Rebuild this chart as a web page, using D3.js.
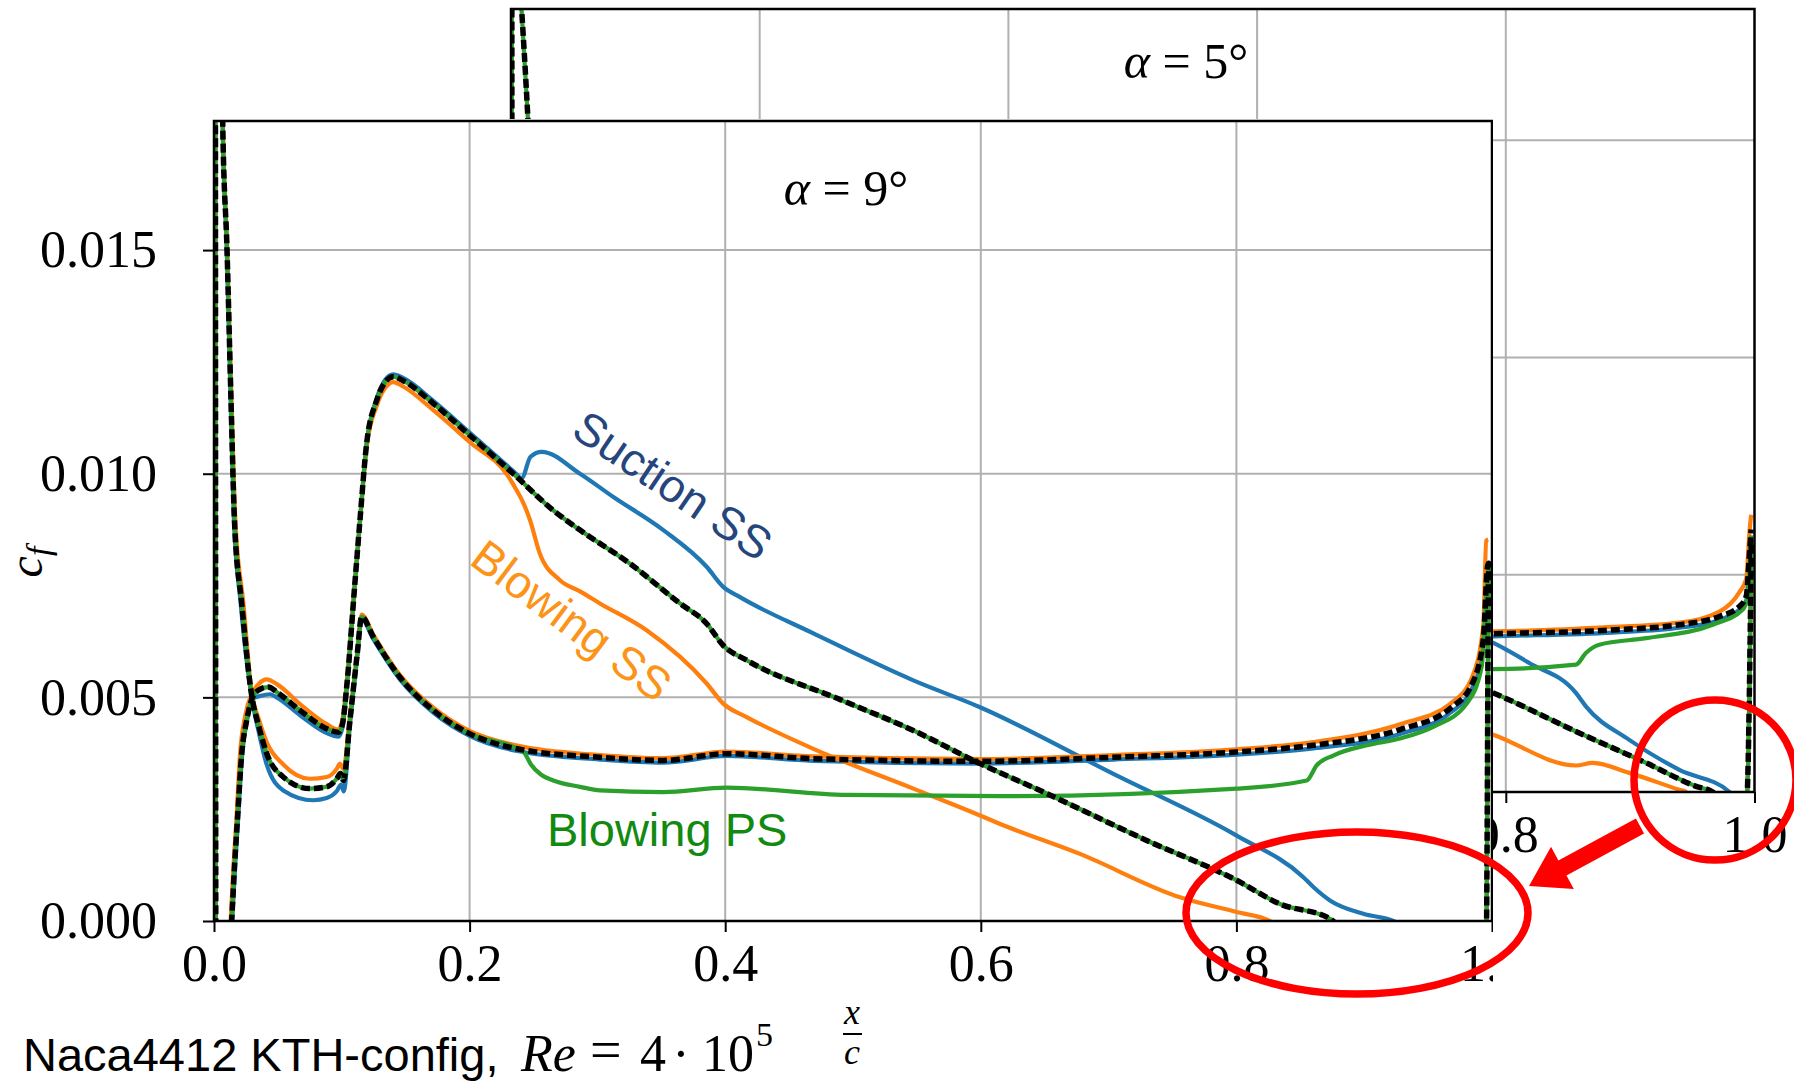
<!DOCTYPE html>
<html>
<head>
<meta charset="utf-8">
<script src="https://cdn.jsdelivr.net/npm/d3@7"></script>
<style>
  html, body { margin: 0; padding: 0; background: #fff; }
  svg { display: block; }
</style>
</head>
<body>
<svg id="chart" width="1794" height="1083"></svg>
<script>
// ---- data: skin friction cf against x/c ----
const xTicks = [0, 0.2, 0.4, 0.6, 0.8, 1.0];
const yTicks = [0, 0.005, 0.010, 0.015];

// alpha = 9 deg (front panel)
const refSS9 = [[0.0010,0.0300],[0.0015,-0.0020],[0.0120,-0.0008],[0.0138,0.0000],[0.0160,0.0012],[0.0183,0.00225],[0.0217,0.00374],[0.0256,0.00449],[0.0308,0.00504],[0.0360,0.00518],[0.0425,0.00523],[0.0500,0.00510],[0.0673,0.00471],[0.0882,0.00430],[0.0973,0.00422],[0.1005,0.00440],[0.1038,0.00523],[0.1100,0.00747],[0.1142,0.00896],[0.1194,0.01067],[0.1273,0.01164],[0.1340,0.01205],[0.1403,0.01217],[0.1480,0.01208],[0.1716,0.01157],[0.2000,0.01086],[0.2342,0.01000],[0.2655,0.00918],[0.2864,0.00874],[0.3255,0.00799],[0.3646,0.00710],[0.3855,0.00665],[0.3985,0.00616],[0.4168,0.00583],[0.4900,0.00495],[0.5472,0.00426],[0.5994,0.00352],[0.6516,0.00285],[0.7298,0.00180],[0.8002,0.00091],[0.8341,0.00038],[0.8732,0.00005],[0.8850,-0.00020],[0.9500,-0.00060],[0.9955,-0.00040],[0.9975,0.00800],[0.9990,0.00780]];
const blueSS9 = [[0.0010,0.0300],[0.0015,-0.0020],[0.0124,-0.0008],[0.0142,0.0000],[0.0165,0.0012],[0.0188,0.00225],[0.0221,0.00374],[0.0259,0.00449],[0.0310,0.00498],[0.0360,0.00503],[0.0438,0.00507],[0.0500,0.00498],[0.0673,0.00460],[0.0882,0.00420],[0.0973,0.00412],[0.1005,0.00432],[0.1038,0.00516],[0.1100,0.00742],[0.1142,0.00893],[0.1194,0.01066],[0.1273,0.01168],[0.1340,0.01210],[0.1403,0.01222],[0.1480,0.01214],[0.1716,0.01163],[0.2000,0.01092],[0.2342,0.01006],[0.2407,0.00990],[0.2477,0.01038],[0.2564,0.01049],[0.2864,0.01000],[0.3125,0.00948],[0.3516,0.00874],[0.3855,0.00792],[0.3985,0.00747],[0.4116,0.00724],[0.4690,0.00643],[0.5472,0.00538],[0.5994,0.00478],[0.7037,0.00329],[0.8002,0.00191],[0.8524,0.00098],[0.8602,0.00076],[0.8732,0.00046],[0.8993,0.00016],[0.9228,0.00000],[0.9400,-0.00030],[0.9955,-0.00030],[0.9975,0.00790],[0.9990,0.00770]];
const orangeSS9 = [[0.0010,0.0300],[0.0015,-0.0020],[0.0112,-0.0008],[0.0130,0.0000],[0.0152,0.0012],[0.0175,0.00225],[0.0204,0.00374],[0.0245,0.00460],[0.0300,0.00510],[0.0350,0.00530],[0.0412,0.00540],[0.0500,0.00528],[0.0673,0.00485],[0.0882,0.00440],[0.0973,0.00428],[0.1005,0.00450],[0.1038,0.00530],[0.1100,0.00745],[0.1142,0.00890],[0.1194,0.01058],[0.1273,0.01152],[0.1340,0.01192],[0.1403,0.01205],[0.1480,0.01195],[0.1716,0.01142],[0.2000,0.01071],[0.2300,0.00995],[0.2368,0.00963],[0.2420,0.00935],[0.2473,0.00896],[0.2550,0.00821],[0.2707,0.00762],[0.2864,0.00737],[0.3020,0.00710],[0.3385,0.00650],[0.3855,0.00531],[0.3985,0.00486],[0.4168,0.00456],[0.4690,0.00385],[0.5472,0.00296],[0.5994,0.00236],[0.6151,0.00217],[0.6776,0.00150],[0.7559,0.00053],[0.8002,0.00020],[0.8263,0.00000],[0.8400,-0.00030],[0.9955,-0.00030],[0.9975,0.00800],[0.9990,0.00780]];
const greenSS9 = refSS9; // blowing on the pressure side leaves the suction side unchanged

const refPS9 = [[0.0060,0.0200],[0.0068,0.01789],[0.0102,0.01500],[0.0133,0.01164],[0.0160,0.00896],[0.0217,0.00710],[0.0295,0.00504],[0.0352,0.00434],[0.0412,0.00375],[0.0542,0.00322],[0.0751,0.00296],[0.0882,0.00300],[0.0960,0.00318],[0.0990,0.00330],[0.1012,0.00314],[0.1064,0.00449],[0.1121,0.00598],[0.1155,0.00680],[0.1247,0.00635],[0.1455,0.00545],[0.1716,0.00471],[0.2000,0.00419],[0.2373,0.00385],[0.3020,0.00366],[0.3516,0.00359],[0.4012,0.00374],[0.4690,0.00363],[0.5994,0.00357],[0.7037,0.00366],[0.8002,0.00378],[0.8602,0.00393],[0.9280,0.00428],[0.9671,0.00475],[0.9844,0.00530],[0.9932,0.00630],[0.9965,0.00792],[0.9975,0.00800]];
const bluePS9 = [[0.0060,0.0200],[0.0067,0.01789],[0.0100,0.01500],[0.0130,0.01164],[0.0156,0.00896],[0.0209,0.00710],[0.0295,0.00500],[0.0352,0.00420],[0.0412,0.00350],[0.0542,0.00292],[0.0777,0.00270],[0.0882,0.00275],[0.0960,0.00290],[0.0995,0.00305],[0.1015,0.00290],[0.1064,0.00440],[0.1121,0.00590],[0.1155,0.00675],[0.1247,0.00630],[0.1455,0.00540],[0.1716,0.00466],[0.2000,0.00414],[0.2373,0.00380],[0.3020,0.00361],[0.3516,0.00354],[0.4012,0.00369],[0.4690,0.00358],[0.5994,0.00352],[0.7037,0.00361],[0.8002,0.00372],[0.8602,0.00386],[0.9280,0.00418],[0.9671,0.00465],[0.9844,0.00520],[0.9932,0.00610],[0.9965,0.00780],[0.9975,0.00790]];
const orangePS9 = [[0.0060,0.0200],[0.0069,0.01789],[0.0104,0.01500],[0.0137,0.01164],[0.0167,0.00896],[0.0230,0.00710],[0.0295,0.00510],[0.0352,0.00450],[0.0412,0.00400],[0.0542,0.00350],[0.0751,0.00318],[0.0882,0.00322],[0.0960,0.00340],[0.0985,0.00352],[0.1012,0.00340],[0.1064,0.00460],[0.1121,0.00600],[0.1155,0.00685],[0.1247,0.00640],[0.1455,0.00550],[0.1716,0.00477],[0.2000,0.00425],[0.2373,0.00392],[0.3020,0.00371],[0.3516,0.00364],[0.4012,0.00379],[0.4690,0.00368],[0.5994,0.00362],[0.7037,0.00371],[0.8002,0.00384],[0.8602,0.00400],[0.9280,0.00440],[0.9671,0.00485],[0.9844,0.00545],[0.9932,0.00660],[0.9955,0.00850],[0.9970,0.00853]];
const greenPS9 = [[0.0060,0.0200],[0.0068,0.01789],[0.0102,0.01500],[0.0133,0.01164],[0.0160,0.00896],[0.0217,0.00710],[0.0295,0.00504],[0.0352,0.00434],[0.0412,0.00375],[0.0542,0.00322],[0.0751,0.00296],[0.0882,0.00300],[0.0960,0.00318],[0.0990,0.00330],[0.1012,0.00314],[0.1064,0.00449],[0.1121,0.00598],[0.1155,0.00680],[0.1247,0.00635],[0.1455,0.00545],[0.1716,0.00471],[0.2000,0.00419],[0.2373,0.00385],[0.2430,0.00375],[0.2480,0.00350],[0.2560,0.00327],[0.2655,0.00314],[0.2864,0.00300],[0.3020,0.00292],[0.3516,0.00288],[0.4012,0.00298],[0.4951,0.00282],[0.6151,0.00279],[0.8002,0.00296],[0.8550,0.00314],[0.8628,0.00348],[0.8758,0.00370],[0.9020,0.00393],[0.9280,0.00408],[0.9540,0.00434],[0.9802,0.00486],[0.9919,0.00568],[0.9960,0.00750],[0.9975,0.00790]];

// alpha = 5 deg (back panel), only the parts not hidden by the front panel
const refLE5 = [[0.0005,0.0300],[0.0010,-0.0020]];
const refLEps5 = [[0.0075,0.0185],[0.0137,0.01544],[0.0150,0.0147]];
const refSS5 = [[0.7800,0.00240],[0.7900,0.00228],[0.8590,0.00136],[0.9128,0.00067],[0.9530,0.00013],[0.9664,0.00000],[0.9750,-0.00030],[0.9935,-0.00030],[0.9975,0.00580]];
const blueSS5 = [[0.7800,0.00356],[0.7900,0.00343],[0.8188,0.00297],[0.8564,0.00228],[0.8644,0.00197],[0.8993,0.00120],[0.9396,0.00051],[0.9799,0.00000],[0.9850,-0.00030],[0.9935,-0.00030],[0.9975,0.00580]];
const orangeSS5 = [[0.7800,0.00142],[0.7900,0.00132],[0.8564,0.00061],[0.8698,0.00067],[0.8993,0.00044],[0.9396,0.00005],[0.9450,0.00000],[0.9500,-0.00030],[0.9935,-0.00030],[0.9975,0.00580]];
const greenSS5 = refSS5;
const refPS5 = [[0.7800,0.00363],[0.7900,0.00364],[0.8859,0.00373],[0.9396,0.00385],[0.9718,0.00404],[0.9879,0.00427],[0.9933,0.00450],[0.9960,0.00550],[0.9973,0.00604]];
const bluePS5 = [[0.7800,0.00357],[0.7900,0.00358],[0.8859,0.00367],[0.9396,0.00378],[0.9718,0.00396],[0.9879,0.00420],[0.9933,0.00440],[0.9960,0.00540],[0.9973,0.00590]];
const orangePS5 = [[0.7800,0.00370],[0.7900,0.00370],[0.8859,0.00380],[0.9396,0.00390],[0.9718,0.00415],[0.9879,0.00460],[0.9933,0.00490],[0.9960,0.00600],[0.9973,0.00638]];
const greenPS5 = [[0.7800,0.00283],[0.7900,0.00283],[0.8564,0.00293],[0.8644,0.00320],[0.8752,0.00339],[0.9128,0.00354],[0.9664,0.00385],[0.9906,0.00420],[0.9946,0.00450],[0.9965,0.00550],[0.9973,0.00590]];

// ---- drawing ----
const W = 1794, H = 1083;
const serif = '"Liberation Serif", "Times New Roman", serif';
const sans = '"Liberation Sans", Arial, sans-serif';
const C = { blue: '#1f77b4', orange: '#ff7f0e', green: '#2ca02c', black: '#000' };

const svg = d3.select('#chart');
const defs = svg.append('defs');

const xF = d3.scaleLinear().domain([0, 1]).range([214, 1492]);
const yF = d3.scaleLinear().domain([0, 0.017886]).range([921, 121]);
const xB = d3.scaleLinear().domain([0, 1]).range([511, 1754.5]);
const yB = d3.scaleLinear().domain([0, 0.01802]).range([792, 9]);

function addClip(id, x, y) {
  defs.append('clipPath').attr('id', id).append('rect')
    .attr('x', x.range()[0]).attr('y', y.range()[1])
    .attr('width', x.range()[1] - x.range()[0])
    .attr('height', y.range()[0] - y.range()[1]);
}
addClip('clipF', xF, yF);
addClip('clipB', xB, yB);
defs.append('clipPath').attr('id', 'clipFrontImg').append('rect')
  .attr('x', 0).attr('y', 0).attr('width', 1493).attr('height', H);

function styleAxis(g) {
  g.select('.domain').remove();
  g.selectAll('.tick line').attr('stroke', '#000').attr('stroke-width', 2);
  g.selectAll('.tick text').attr('font-family', serif).attr('font-size', 52).attr('fill', '#000');
}

function drawPanel(g, x, y, clipId, series) {
  const [x0, x1] = x.range();
  const [y0, y1] = y.range();

  g.append('g').selectAll('line').data(xTicks.slice(1, -1)).join('line')
    .attr('x1', d => x(d)).attr('x2', d => x(d)).attr('y1', y1).attr('y2', y0)
    .attr('stroke', '#b0b0b0').attr('stroke-width', 2);
  g.append('g').selectAll('line').data(yTicks.slice(1)).join('line')
    .attr('x1', x0).attr('x2', x1).attr('y1', d => y(d)).attr('y2', d => y(d))
    .attr('stroke', '#b0b0b0').attr('stroke-width', 2);

  const line = d3.line().x(d => x(d[0])).y(d => y(d[1])).curve(d3.curveMonotoneX);
  const plot = g.append('g').attr('clip-path', `url(#${clipId})`);
  series.forEach(s => {
    plot.append('path').datum(s.data)
      .attr('d', line)
      .attr('fill', 'none')
      .attr('stroke', s.color)
      .attr('stroke-width', s.width)
      .attr('stroke-linejoin', 'round')
      .attr('stroke-dasharray', s.dash || null);
  });

  g.append('g').attr('transform', `translate(0,${y0})`)
    .call(d3.axisBottom(x).tickValues(xTicks).tickFormat(d3.format('.1f')).tickSize(11).tickPadding(12))
    .call(styleAxis);
  g.append('g').attr('transform', `translate(${x0},0)`)
    .call(d3.axisLeft(y).tickValues(yTicks).tickFormat(d3.format('.3f')).tickSize(11).tickPadding(46))
    .call(styleAxis);

  g.append('rect')
    .attr('x', x0).attr('y', y1).attr('width', x1 - x0).attr('height', y0 - y1)
    .attr('fill', 'none').attr('stroke', '#000').attr('stroke-width', 2.5);
}

const solidW = 4.2, refW = 5.5, refDash = '9 4';
function seriesSet(s) {
  return [
    { data: s.blueSS, color: C.blue, width: solidW },
    { data: s.bluePS, color: C.blue, width: solidW },
    { data: s.orangeSS, color: C.orange, width: solidW },
    { data: s.orangePS, color: C.orange, width: solidW },
    { data: s.greenSS, color: C.green, width: solidW },
    { data: s.greenPS, color: C.green, width: solidW },
    { data: s.refSS, color: C.black, width: refW, dash: refDash },
    { data: s.refPS, color: C.black, width: refW, dash: refDash }
  ];
}

// back panel: alpha = 5 deg
const back = svg.append('g');
drawPanel(back, xB, yB, 'clipB', seriesSet({
  blueSS: blueSS5, bluePS: bluePS5, orangeSS: orangeSS5, orangePS: orangePS5,
  greenSS: greenSS5, greenPS: greenPS5, refSS: refSS5, refPS: refPS5
}).concat([
  { data: refLE5, color: C.green, width: solidW },
  { data: refLEps5, color: C.green, width: solidW },
  { data: refLE5, color: C.black, width: refW, dash: refDash },
  { data: refLEps5, color: C.black, width: refW, dash: refDash }
]));
back.append('text')
  .attr('x', 1186).attr('y', 78).attr('text-anchor', 'middle')
  .attr('font-family', serif).attr('font-size', 50)
  .call(t => { t.append('tspan').attr('font-style', 'italic').text('α'); t.append('tspan').text(' = 5°'); });

// front panel: alpha = 9 deg, pasted on top with a white background
const front = svg.append('g').attr('clip-path', 'url(#clipFrontImg)');
front.append('rect').attr('x', 0).attr('y', 119).attr('width', 1493).attr('height', H - 119).attr('fill', '#fff');
drawPanel(front, xF, yF, 'clipF', seriesSet({
  blueSS: blueSS9, bluePS: bluePS9, orangeSS: orangeSS9, orangePS: orangePS9,
  greenSS: greenSS9, greenPS: greenPS9, refSS: refSS9, refPS: refPS9
}));
front.append('text')
  .attr('x', 846).attr('y', 205).attr('text-anchor', 'middle')
  .attr('font-family', serif).attr('font-size', 50)
  .call(t => { t.append('tspan').attr('font-style', 'italic').text('α'); t.append('tspan').text(' = 9°'); });

// y label c_f
const yl = front.append('text')
  .attr('transform', 'translate(42,562) rotate(-90)')
  .attr('text-anchor', 'middle').attr('font-family', serif).attr('font-style', 'italic');
yl.append('tspan').attr('font-size', 48).text('c');
yl.append('tspan').attr('font-size', 34).attr('dy', 8).text('f');

// x label x/c
front.append('text').attr('x', 852).attr('y', 1024).attr('text-anchor', 'middle')
  .attr('font-family', serif).attr('font-style', 'italic').attr('font-size', 36).text('x');
front.append('line').attr('x1', 843).attr('x2', 862).attr('y1', 1034).attr('y2', 1034)
  .attr('stroke', '#000').attr('stroke-width', 2);
front.append('text').attr('x', 852).attr('y', 1064).attr('text-anchor', 'middle')
  .attr('font-family', serif).attr('font-style', 'italic').attr('font-size', 36).text('c');

// curve annotations
svg.append('text')
  .attr('transform', 'translate(673,485) rotate(34)')
  .attr('text-anchor', 'middle').attr('dy', '0.36em')
  .attr('font-family', sans).attr('font-size', 46).attr('fill', '#25467d')
  .text('Suction SS');
svg.append('text')
  .attr('transform', 'translate(572,620) rotate(36.7)')
  .attr('text-anchor', 'middle').attr('dy', '0.36em')
  .attr('font-family', sans).attr('font-size', 46).attr('fill', '#fb9418')
  .text('Blowing SS');
svg.append('text')
  .attr('x', 547).attr('y', 846)
  .attr('font-family', sans).attr('font-size', 47).attr('fill', '#128a12')
  .text('Blowing PS');

// case caption
svg.append('text').attr('x', 23).attr('y', 1071)
  .attr('font-family', sans).attr('font-size', 47).attr('fill', '#000')
  .text('Naca4412 KTH-config,');
const cap = svg.append('g').attr('font-family', serif).attr('font-size', 52).attr('fill', '#000');
cap.append('text').attr('x', 521).attr('y', 1071).attr('font-style', 'italic').text('Re');
cap.append('text').attr('x', 590).attr('y', 1069).attr('font-size', 56).text('=');
cap.append('text').attr('x', 640).attr('y', 1071).text('4');
cap.append('text').attr('x', 681).attr('y', 1071).attr('text-anchor', 'middle').text('·');
cap.append('text').attr('x', 702).attr('y', 1071).text('10');
cap.append('text').attr('x', 756).attr('y', 1046).attr('font-size', 34).text('5');

// red highlights
const red = svg.append('g').attr('fill', 'none').attr('stroke', '#ff0000').attr('stroke-width', 7.5);
red.append('ellipse').attr('cx', 1357).attr('cy', 913).attr('rx', 171).attr('ry', 81);
red.append('ellipse').attr('cx', 1715).attr('cy', 780).attr('rx', 81).attr('ry', 80);

const tail = [1640, 826], tip = [1529, 886];
const len = Math.hypot(tip[0] - tail[0], tip[1] - tail[1]);
const ux = (tip[0] - tail[0]) / len, uy = (tip[1] - tail[1]) / len;
const px = -uy, py = ux;
const headL = 38, headW = 24, shaftW = 8.5;
const bx = tip[0] - ux * headL, by = tip[1] - uy * headL;
const arrow = [
  [tail[0] + px * shaftW, tail[1] + py * shaftW],
  [bx + px * shaftW, by + py * shaftW],
  [bx + px * headW, by + py * headW],
  tip,
  [bx - px * headW, by - py * headW],
  [bx - px * shaftW, by - py * shaftW],
  [tail[0] - px * shaftW, tail[1] - py * shaftW]
];
svg.append('polygon').attr('points', arrow.map(p => p.join(',')).join(' ')).attr('fill', '#ff0000');
</script>
</body>
</html>
